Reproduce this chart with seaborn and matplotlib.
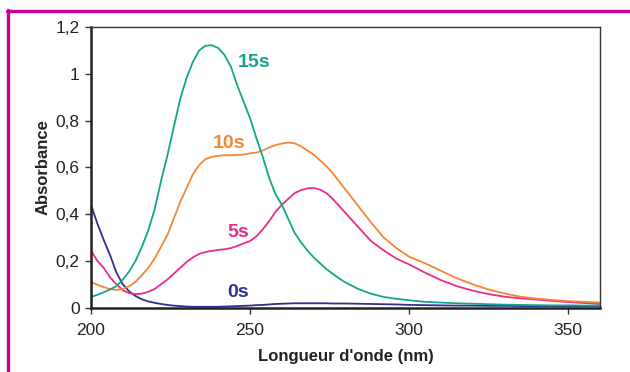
import matplotlib
matplotlib.use("Agg")
import matplotlib.pyplot as plt
from matplotlib.lines import Line2D
import seaborn as sns
import pandas as pd

# Wavelengths (nm) at which the absorbance spectra are sampled
wavelength = [200, 202, 204, 206, 208, 210, 212, 214, 216, 218, 220, 222, 224, 226,
              228, 230, 232, 234, 236, 238, 240, 242, 244, 246, 248, 250, 252, 254,
              256, 258, 260, 262, 264, 266, 268, 270, 272, 274, 276, 278, 280, 284,
              288, 292, 296, 300, 305, 310, 315, 320, 325, 330, 335, 340, 345, 350,
              355, 360]

# Absorbance after each irradiation time
abs_0s = [0.44, 0.36, 0.29, 0.225, 0.15, 0.10, 0.07, 0.05, 0.036, 0.027, 0.021, 0.016,
          0.012, 0.009, 0.007, 0.005, 0.004, 0.004, 0.004, 0.004, 0.004, 0.005, 0.006,
          0.007, 0.008, 0.009, 0.011, 0.012, 0.014, 0.016, 0.017, 0.018, 0.019, 0.019,
          0.019, 0.019, 0.019, 0.019, 0.018, 0.018, 0.018, 0.017, 0.016, 0.015, 0.014,
          0.012, 0.011, 0.010, 0.009, 0.009, 0.008, 0.008, 0.007, 0.007, 0.007, 0.006,
          0.006, 0.006]
abs_5s = [0.245, 0.20, 0.17, 0.13, 0.10, 0.075, 0.062, 0.058, 0.06, 0.068, 0.08, 0.10,
          0.12, 0.145, 0.17, 0.195, 0.215, 0.23, 0.238, 0.243, 0.247, 0.25, 0.255, 0.264,
          0.275, 0.285, 0.305, 0.335, 0.37, 0.41, 0.44, 0.465, 0.49, 0.503, 0.51, 0.512,
          0.505, 0.49, 0.465, 0.435, 0.405, 0.345, 0.285, 0.245, 0.21, 0.185, 0.15,
          0.118, 0.092, 0.073, 0.058, 0.047, 0.04, 0.035, 0.029, 0.024, 0.02, 0.016]
abs_10s = [0.11, 0.098, 0.088, 0.08, 0.076, 0.08, 0.092, 0.11, 0.14, 0.17, 0.21, 0.26,
           0.31, 0.38, 0.45, 0.51, 0.57, 0.61, 0.635, 0.645, 0.65, 0.652, 0.652, 0.653,
           0.655, 0.66, 0.663, 0.672, 0.685, 0.695, 0.702, 0.706, 0.703, 0.69, 0.672,
           0.655, 0.63, 0.605, 0.575, 0.54, 0.505, 0.435, 0.365, 0.30, 0.255, 0.218,
           0.19, 0.158, 0.126, 0.10, 0.078, 0.061, 0.047, 0.039, 0.033, 0.028, 0.025,
           0.022]
abs_15s = [0.046, 0.055, 0.066, 0.078, 0.092, 0.12, 0.155, 0.20, 0.26, 0.33, 0.42, 0.54,
           0.65, 0.77, 0.89, 0.98, 1.05, 1.10, 1.12, 1.122, 1.11, 1.08, 1.03, 0.95, 0.88,
           0.81, 0.725, 0.645, 0.555, 0.485, 0.44, 0.38, 0.32, 0.28, 0.245, 0.215, 0.19,
           0.165, 0.145, 0.125, 0.108, 0.08, 0.06, 0.046, 0.038, 0.032, 0.025, 0.022,
           0.019, 0.017, 0.015, 0.013, 0.012, 0.011, 0.010, 0.010, 0.009, 0.009]

series_names = ["0s", "5s", "10s", "15s"]
series_colors = ["#2e3192", "#ec2c8c", "#f58634", "#13a68a"]

y_ticks = [0, 0.2, 0.4, 0.6, 0.8, 1.0, 1.2]
y_tick_labels = ["0", "0,2", "0,4", "0,6", "0,8", "1", "1,2"]
x_ticks = [200, 250, 300, 350]
x_tick_labels = ["200", "250", "300", "350"]

# Curve label positions (nm, absorbance)
label_pos = {"15s": (251.3, 1.05), "10s": (243.4, 0.704), "5s": (246.2, 0.32), "0s": (246.2, 0.063)}

frames = []
for name, values in zip(series_names, [abs_0s, abs_5s, abs_10s, abs_15s]):
    frames.append(pd.DataFrame({"wavelength": wavelength, "absorbance": values, "time": name}))
df = pd.concat(frames, ignore_index=True)

sns.set_theme(style="white")
plt.rcParams["font.family"] = ["Liberation Sans", "DejaVu Sans"]

fig = plt.figure(figsize=(6.3, 3.72), dpi=100)
ax = fig.add_axes([0.1444, 0.1728, 0.8080, 0.7546])

sns.lineplot(data=df, x="wavelength", y="absorbance", hue="time",
             hue_order=series_names, palette=series_colors, linewidth=1.3,
             legend=False, ax=ax, estimator=None, sort=False)

ax.set_xlim(200, 360)
ax.set_ylim(0, 1.2)
ax.set_xticks(x_ticks)
ax.set_xticklabels(x_tick_labels)
ax.set_yticks(y_ticks)
ax.set_yticklabels(y_tick_labels)
ax.tick_params(axis="both", direction="out", length=4, width=1, color="#333333",
               labelsize=12.5, labelcolor="#222222", pad=4, bottom=True, left=True)
ax.tick_params(axis="x", pad=7)

for side in ["left", "bottom"]:
    ax.spines[side].set_linewidth(1.8)
    ax.spines[side].set_color("#222222")
for side in ["top", "right"]:
    ax.spines[side].set_linewidth(1.0)
    ax.spines[side].set_color("#333333")

ax.set_xlabel("Longueur d'onde (nm)", fontsize=12, fontweight="bold", color="#222222", labelpad=8)
ax.set_ylabel("Absorbance", fontsize=12, fontweight="bold", color="#222222", labelpad=4)

for name, color in zip(series_names, series_colors):
    lx, ly = label_pos[name]
    ax.text(lx, ly, name, color=color, fontsize=14, fontweight="bold",
            ha="center", va="center")

# Magenta frame along the top and left edges
border = "#c8008f"
fig.add_artist(Line2D([7 / 630, 1.0], [1 - 10.5 / 372, 1 - 10.5 / 372],
                      transform=fig.transFigure, color=border, linewidth=2.4))
fig.add_artist(Line2D([8.2 / 630, 8.2 / 630], [0.0, 1 - 9.5 / 372],
                      transform=fig.transFigure, color=border, linewidth=2.4))

fig.savefig("out.png", dpi=100)
